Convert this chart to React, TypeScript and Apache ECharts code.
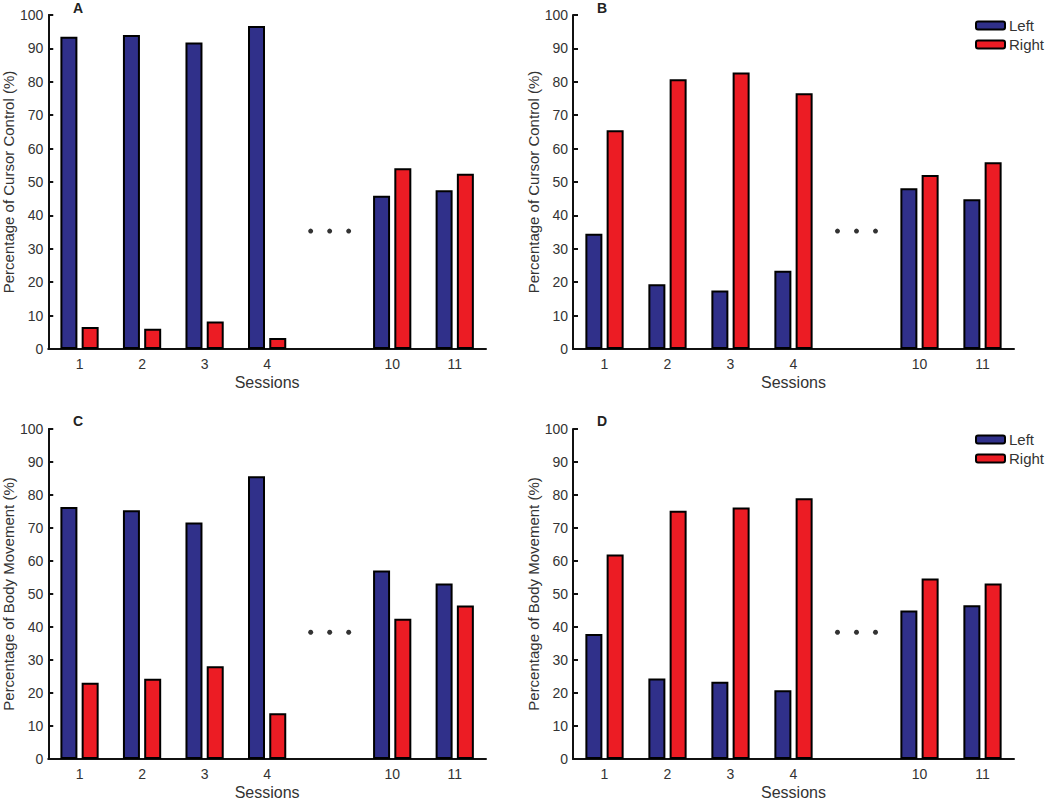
import React, { useEffect, useRef } from "react";
import * as echarts from "echarts";

const categories = ["1", "2", "3", "4", "", "10", "11"];
const yTicks = { min: 0, max: 100, interval: 10 };

const leftA = [93.5, 94.0, 91.8, 96.7, null, 45.9, 47.5];
const rightA = [6.6, 6.1, 8.2, 3.3, null, 54.1, 52.5];
const leftB = [34.5, 19.4, 17.5, 23.4, null, 48.1, 44.8];
const rightB = [65.5, 80.8, 82.8, 76.6, null, 52.1, 55.9];
const leftC = [76.4, 75.4, 71.7, 85.7, null, 57.1, 53.2];
const rightC = [23.1, 24.3, 28.1, 13.9, null, 42.5, 46.5];
const leftD = [37.9, 24.4, 23.4, 20.8, null, 45.0, 46.6];
const rightD = [62.0, 75.2, 76.2, 79.0, null, 54.7, 53.2];

const ellipsisTop = 35.3;
const ellipsisBottom = 38.4;

const panelLetters = ["A", "B", "C", "D"];
const yNames = [
  "Percentage of Cursor Control (%)",
  "Percentage of Cursor Control (%)",
  "Percentage of Body Movement (%)",
  "Percentage of Body Movement (%)",
];
const xName = "Sessions";
const seriesNames = ["Left", "Right"];

const BLUE = "#30308A";
const RED = "#EC1C24";
const FONT = "Liberation Sans";

export default function App() {
  const ref = useRef<HTMLDivElement>(null);
  useEffect(() => {
    if (!ref.current) return;
    const chart = echarts.init(ref.current, undefined, { renderer: "svg" });
    const grids = [
      { left: 45, top: 15, width: 441, height: 334 },
      { left: 573, top: 15, width: 441, height: 334 },
      { left: 45, top: 429, width: 441, height: 333 },
      { left: 573, top: 429, width: 441, height: 333 },
    ];
    const leftData = [leftA, leftB, leftC, leftD];
    const rightData = [rightA, rightB, rightC, rightD];
    const ellipsis = [ellipsisTop, ellipsisTop, ellipsisBottom, ellipsisBottom];
    const titlePos = [
      { left: 73, top: 1 },
      { left: 597, top: 1 },
      { left: 73, top: 414 },
      { left: 597, top: 414 },
    ];

    const series: any[] = [];
    grids.forEach((_, i) => {
      series.push({
        type: "bar",
        name: seriesNames[0],
        xAxisIndex: i,
        yAxisIndex: i,
        data: leftData[i],
        barWidth: 17,
        barGap: "25%",
        itemStyle: { color: BLUE, borderColor: "#000", borderWidth: 2 },
      });
      series.push({
        type: "bar",
        name: seriesNames[1],
        xAxisIndex: i,
        yAxisIndex: i,
        data: rightData[i],
        barWidth: 17,
        barGap: "25%",
        itemStyle: { color: RED, borderColor: "#000", borderWidth: 2 },
      });
      series.push({
        type: "scatter",
        xAxisIndex: i,
        yAxisIndex: i,
        symbol: "circle",
        symbolSize: 5,
        itemStyle: { color: "#000" },
        silent: true,
        data: [
          { value: [4, ellipsis[i]], symbolOffset: [-19, 0] },
          { value: [4, ellipsis[i]], symbolOffset: [0, 0] },
          { value: [4, ellipsis[i]], symbolOffset: [19, 0] },
        ],
      });
    });

    const legendBase = {
      data: seriesNames,
      orient: "vertical",
      left: 975,
      itemWidth: 29,
      itemHeight: 8,
      itemGap: 4,
      padding: 0,
      selectedMode: false,
      textStyle: { fontSize: 15, color: "#333", fontFamily: FONT, padding: [0, 0, 0, -1] },
    };

    const option: any = {
      animation: false,
      backgroundColor: "#fff",
      textStyle: { fontFamily: FONT },
      title: panelLetters.map((t, i) => ({
        text: t,
        ...titlePos[i],
        padding: 0,
        textStyle: { fontSize: 14, fontWeight: "bold", color: "#222", fontFamily: FONT },
      })),
      legend: [
        { ...legendBase, top: 18 },
        { ...legendBase, top: 432 },
      ],
      grid: grids,
      xAxis: grids.map((_, i) => ({
        type: "category",
        gridIndex: i,
        data: categories,
        name: xName,
        nameLocation: "middle",
        nameGap: 25,
        nameTextStyle: { fontSize: 16, color: "#333", fontFamily: FONT },
        axisLine: { lineStyle: { color: "#111", width: 2 } },
        axisTick: { show: false },
        axisLabel: { fontSize: 14, color: "#333", margin: 8, fontFamily: FONT },
      })),
      yAxis: grids.map((_, i) => ({
        type: "value",
        gridIndex: i,
        ...yTicks,
        name: yNames[i],
        nameLocation: "middle",
        nameGap: 31,
        nameTextStyle: { fontSize: 15, color: "#333", fontFamily: FONT },
        axisLine: { show: true, lineStyle: { color: "#111", width: 2 } },
        axisTick: { show: true, inside: true, length: 5, lineStyle: { color: "#111", width: 2 } },
        axisLabel: { fontSize: 14, color: "#333", margin: 5, fontFamily: FONT },
        splitLine: { show: false },
      })),
      series,
    };
    chart.setOption(option);
    return () => chart.dispose();
  }, []);
  return (
    <div
      ref={ref}
      style={{ position: "absolute", left: 0, top: 0, width: 1050, height: 801 }}
    />
  );
}
